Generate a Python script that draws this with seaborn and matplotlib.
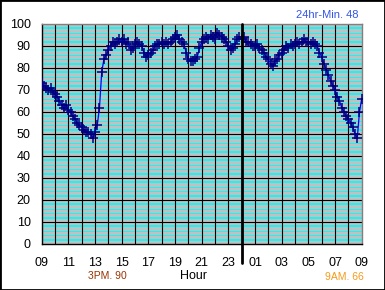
import numpy as np
import pandas as pd
import matplotlib
matplotlib.use("Agg")
import matplotlib.pyplot as plt
from matplotlib.patches import Rectangle
import seaborn as sns

# ---- data (10-minute readings from 09:00 to 09:00 next day) ----
values = [
    73, 72, 71, 70, 71, 69,   # 09
    68, 67, 65, 63, 62, 63,   # 10
    61, 60, 58, 57, 55, 54,   # 11
    53, 52, 51, 51, 50, 48,   # 12
    51, 54, 62, 78, 84, 86,   # 13
    88, 90, 92, 91, 92, 93,   # 14
    92, 93, 91, 92, 88, 89,   # 15
    91, 92, 91, 90, 87, 85,   # 16
    86, 87, 88, 90, 91, 91,   # 17
    92, 91, 92, 91, 92, 93,   # 18
    94, 95, 93, 92, 91, 87,   # 19
    84, 83, 83, 84, 85, 89,   # 20
    92, 93, 94, 93, 95, 94,   # 21
    93, 96, 95, 94, 93, 92,   # 22
    90, 88, 89, 91, 93, 94,   # 23
    93, 94, 92, 92, 91, 90,   # 00
    90, 91, 89, 88, 87, 85,   # 01
    84, 82, 81, 83, 84, 86,   # 02
    87, 88, 90, 89, 91, 90,   # 03
    91, 92, 91, 92, 93, 92,   # 04
    92, 91, 92, 91, 90, 87,   # 05
    85, 82, 79, 77, 74, 72,   # 06
    70, 67, 65, 62, 60, 58,   # 07
    57, 55, 53, 50, 48, 60,   # 08
    66,                       # 09
]
tick_labels = ["09", "11", "13", "15", "17", "19", "21", "23",
               "01", "03", "05", "07", "09"]
y_ticks = [0, 10, 20, 30, 40, 50, 60, 70, 80, 90, 100]
title_min = "24hr-Min. 48"
note_left = "3PM. 90"
note_right = "9AM. 66"
x_label = "Hour"

elapsed = np.arange(len(values)) / 6.0
df = pd.DataFrame({"h": elapsed, "v": values})

sns.set_style("white")
plt.rcParams["font.family"] = ["Liberation Sans", "DejaVu Sans"]

W, H = 385, 290
fig = plt.figure(figsize=(W / 100, H / 100), dpi=100)
fig.patch.set_facecolor("white")
ax = fig.add_axes([41.7 / W, 1 - 244 / H, 320 / W, 220 / H])
ax.set_facecolor("#C0C0C0")

# cyan minor grid: thick next to black lines, thin in between
for base in range(0, 100, 10):
    for off, lw in ((2, 1.3), (4, 0.7), (6, 0.7), (8, 1.3)):
        ax.axhline(base + off, color="#00FFFF", lw=lw, zorder=1)
for yv in range(10, 100, 10):
    ax.axhline(yv, color="black", lw=0.8, zorder=1.5)
for hv in range(1, 24):
    ax.axvline(hv, color="black", lw=0.8, zorder=1.5)

sns.lineplot(data=df, x="h", y="v", ax=ax, color="#0000FF", lw=0.9,
             marker="+", markersize=7, markeredgecolor="#000080",
             markeredgewidth=1.1, zorder=3)

# midnight divider extending below the axis
ax.plot([15, 15], [100, -8.6], color="black", lw=2.0, clip_on=False, zorder=4)

ax.set_xlim(0, 24)
ax.set_ylim(0, 100)
ax.set_xticks(np.arange(0, 25, 2))
ax.set_xticklabels(tick_labels)
ax.set_yticks(y_ticks)
ax.set_yticklabels([str(t) for t in y_ticks])
ax.tick_params(axis="both", direction="out", length=4, width=1,
               color="black", labelsize=9, labelcolor="black")
ax.tick_params(axis="x", pad=5)
ax.tick_params(axis="y", pad=4)
ax.set_xlabel("")
ax.set_ylabel("")
for s in ("left", "bottom"):
    ax.spines[s].set_color("black")
    ax.spines[s].set_linewidth(1.0)
for s in ("top", "right"):
    ax.spines[s].set_color("#808080")
    ax.spines[s].set_linewidth(1.0)

fig.text(193.5 / W, 1 - 276 / H, x_label, ha="center", va="center",
         fontsize=9, color="black")
fig.text(358 / W, 1 - 15 / H, title_min, ha="right", va="center",
         fontsize=8, color="#3355E6")
fig.text(88 / W, 1 - 276 / H, note_left, ha="left", va="center",
         fontsize=7.5, color="#993300")
fig.text(364 / W, 1 - 277 / H, note_right, ha="right", va="center",
         fontsize=7.5, color="#F59A1A")

fig.patches.append(Rectangle((0, 0), 1, 1, transform=fig.transFigure,
                             fill=False, edgecolor="black", lw=2))

fig.savefig("out.png", dpi=100)
